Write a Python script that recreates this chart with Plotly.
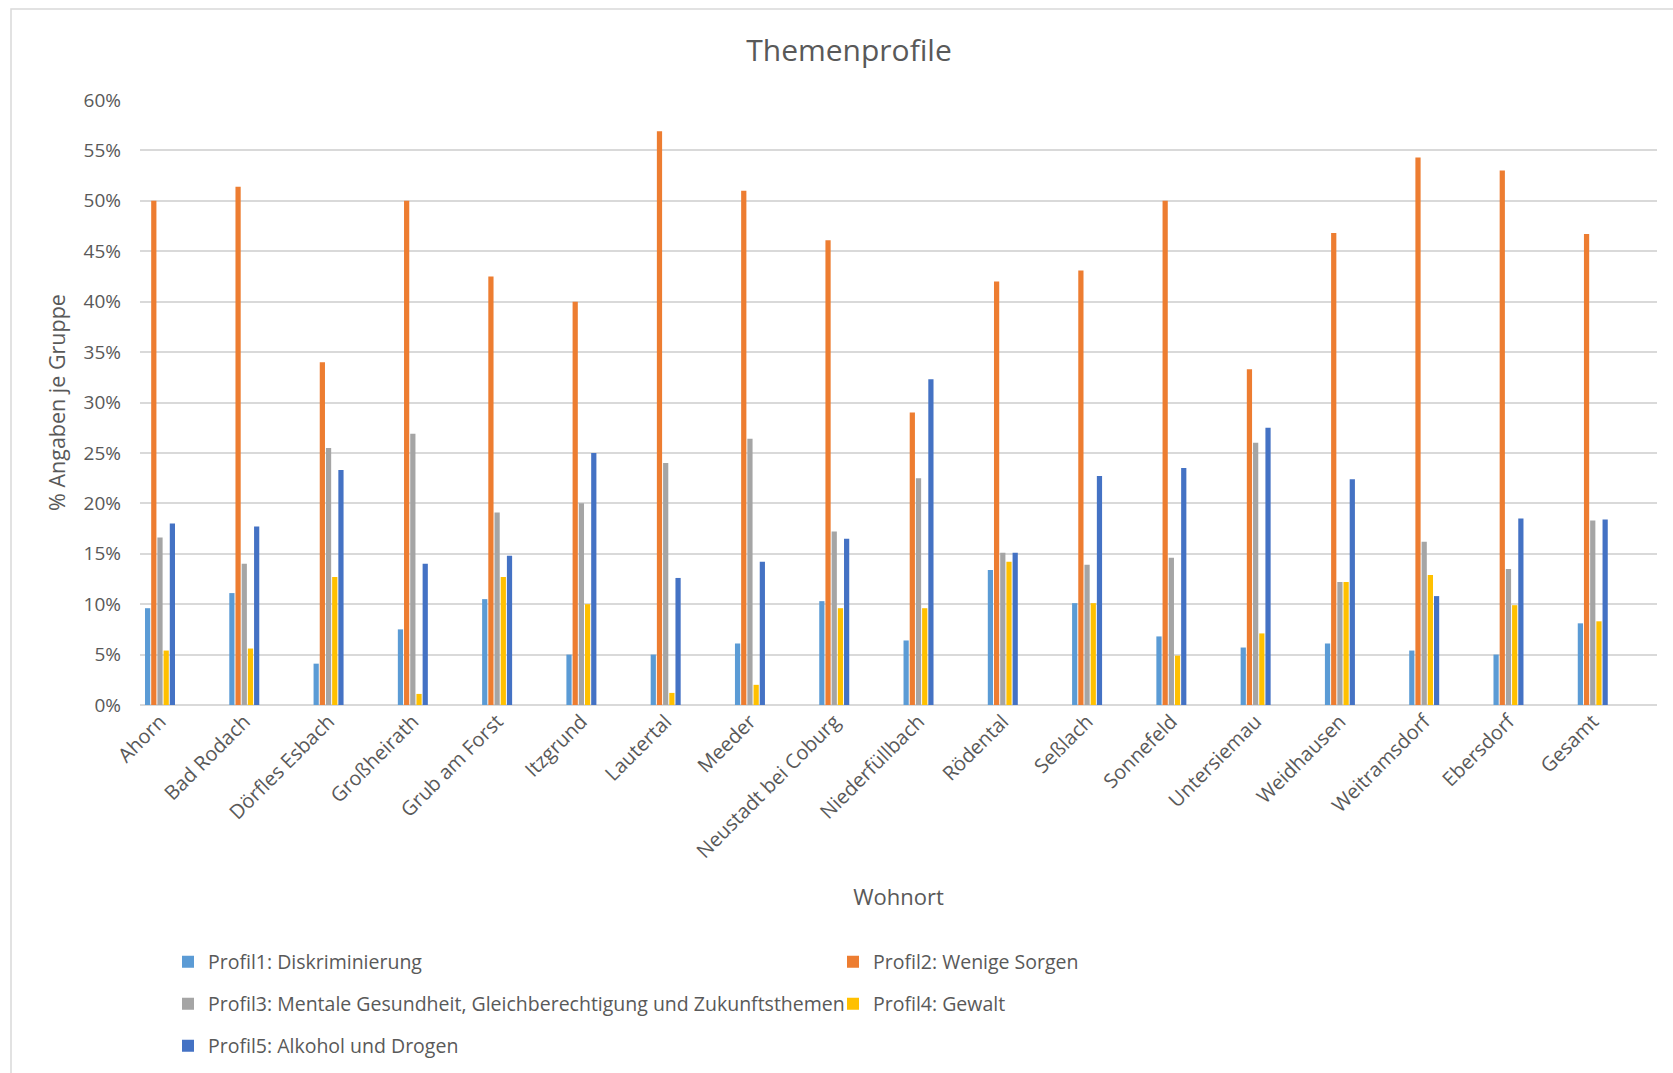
import plotly.graph_objects as go

categories = ["Ahorn", "Bad Rodach", "Dörfles Esbach", "Großheirath", "Grub am Forst",
              "Itzgrund", "Lautertal", "Meeder", "Neustadt bei Coburg", "Niederfüllbach",
              "Rödental", "Seßlach", "Sonnefeld", "Untersiemau", "Weidhausen",
              "Weitramsdorf", "Ebersdorf", "Gesamt"]

series_names = ["Profil1: Diskriminierung",
                "Profil2: Wenige Sorgen",
                "Profil3: Mentale Gesundheit, Gleichberechtigung und Zukunftsthemen",
                "Profil4: Gewalt",
                "Profil5: Alkohol und Drogen"]

# values in percent
profil1 = [9.6, 11.1, 4.1, 7.5, 10.5, 5.0, 5.0, 6.1, 10.3, 6.4, 13.4, 10.1, 6.8, 5.7, 6.1, 5.4, 5.0, 8.1]
profil2 = [50.0, 51.4, 34.0, 50.0, 42.5, 40.0, 56.9, 51.0, 46.1, 29.0, 42.0, 43.1, 50.0, 33.3, 46.8, 54.3, 53.0, 46.7]
profil3 = [16.6, 14.0, 25.5, 26.9, 19.1, 20.0, 24.0, 26.4, 17.2, 22.5, 15.1, 13.9, 14.6, 26.0, 12.2, 16.2, 13.5, 18.3]
profil4 = [5.4, 5.6, 12.7, 1.1, 12.7, 10.0, 1.2, 2.0, 9.6, 9.6, 14.2, 10.1, 4.9, 7.1, 12.2, 12.9, 9.9, 8.3]
profil5 = [18.0, 17.7, 23.3, 14.0, 14.8, 25.0, 12.6, 14.2, 16.5, 32.3, 15.1, 22.7, 23.5, 27.5, 22.4, 10.8, 18.5, 18.4]

series_values = [profil1, profil2, profil3, profil4, profil5]
colors = ["#5B9BD5", "#ED7D31", "#A5A5A5", "#FFC000", "#4472C4"]
legend_ids = ["legend", "legend", "legend2", "legend2", "legend3"]

W, H = 1673, 1073
L, R, T, B = 140, 16, 100, 368
plot_w = W - L - R
plot_h = H - T - B

# category spacing in px and first category centre (px)
cat_px = 84.28
first_center_px = 160
x_lo = (L - first_center_px) / cat_px
x_hi = (W - R - first_center_px) / cat_px

bar_w = 0.062
step = 0.0735
first_off = -(4 * step + bar_w) / 2

fig = go.Figure()
for k, (name, vals, col, lg) in enumerate(zip(series_names, series_values, colors, legend_ids)):
    fig.add_trace(go.Bar(
        x=list(range(len(categories))),
        y=[v / 100 for v in vals],
        name=name,
        marker=dict(color=col, line=dict(width=0)),
        width=bar_w,
        offset=first_off + k * step,
        legend=lg,
    ))

font_col = "#595959"
fam = "Open Sans"

def py2paper(py):
    return (H - B - py) / plot_h

def px2paper(px):
    return (px - L) / plot_w

leg_common = dict(orientation="h", entrywidth=620, entrywidthmode="pixels",
                  font=dict(family=fam, size=19.5, color=font_col),
                  bgcolor="rgba(0,0,0,0)", xanchor="left", yanchor="middle",
                  x=px2paper(168), itemclick=False)

fig.update_layout(
    width=W, height=H,
    margin=dict(l=L, r=R, t=T, b=B, autoexpand=False),
    paper_bgcolor="white", plot_bgcolor="white",
    barmode="overlay",
    title=dict(text="Themenprofile", x=849 / W, xanchor="center",
               y=1 - 50 / H, yanchor="middle",
               font=dict(family=fam, size=30, color=font_col)),
    font=dict(family=fam, color=font_col),
    legend=dict(**leg_common, y=py2paper(962)),
    legend2=dict(**leg_common, y=py2paper(1004)),
    legend3=dict(**leg_common, y=py2paper(1046)),
    xaxis=dict(
        range=[x_lo, x_hi],
        tickmode="array", tickvals=list(range(len(categories))), ticktext=categories,
        tickangle=-45,
        tickfont=dict(family=fam, size=20, color=font_col),
        showgrid=False, showline=False, ticks="", zeroline=False,
        ticklabelstandoff=0,
        title=dict(text="Wohnort", font=dict(family=fam, size=22, color=font_col), standoff=26),
        automargin=False,
    ),
    yaxis=dict(
        range=[0, 0.6], dtick=0.05, tickformat=".0%",
        tickfont=dict(family=fam, size=19, color=font_col),
        showgrid=True, gridcolor="#D9D9D9", gridwidth=1.5,
        zeroline=True, zerolinecolor="#D9D9D9", zerolinewidth=1.5,
        showline=False, ticks="", ticklabelstandoff=18,
        title=dict(text="% Angaben je Gruppe", font=dict(family=fam, size=21.5, color=font_col), standoff=12),
        automargin=False,
    ),
    shapes=[dict(type="rect", xref="paper", yref="paper",
                 x0=px2paper(11), x1=px2paper(W + 20),
                 y0=py2paper(H + 20), y1=py2paper(9),
                 line=dict(color="#D9D9D9", width=1.5), fillcolor="rgba(0,0,0,0)", layer="below")],
)

fig.write_html("out.html", config={"displayModeBar": False},
               post_script="document.body.style.margin='0px';")
